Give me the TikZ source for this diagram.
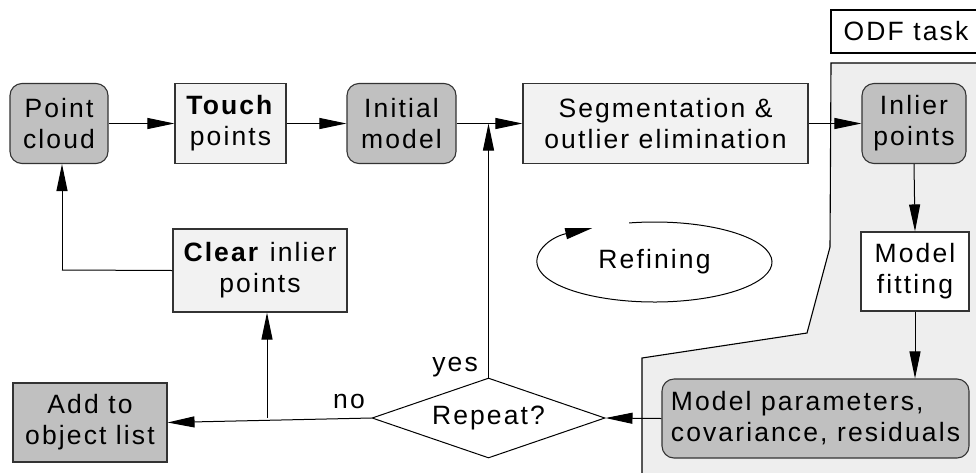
\documentclass[tikz,border=0pt]{standalone}
\usepackage{fontspec}
\setmainfont{Liberation Sans}[LetterSpace=8]
\usetikzlibrary{arrows.meta,shapes.geometric}
\definecolor{boxgray}{HTML}{C0C0C0}
\definecolor{boxlight}{HTML}{F2F2F2}
\definecolor{regiongray}{HTML}{EEEEEE}
\definecolor{edgegray}{HTML}{333333}
\begin{document}
\begin{tikzpicture}[x=1pt,y=-1pt,
  every node/.style={font=\fontsize{26.5}{31}\selectfont},
  box/.style={draw=edgegray, line width=1.1pt, inner sep=0pt, align=center},
  roundbox/.style={box, fill=boxgray, rounded corners=12pt},
  lightbox/.style={box, fill=boxlight},
  graybox/.style={box, fill=boxgray},
  whitebox/.style={box, fill=white},
  decision/.style={draw=black, line width=1pt, fill=white, shape=diamond,
    aspect=2.9, inner sep=0pt},
  arr/.style={draw=black, line width=1pt, -{Triangle[length=27pt,width=11pt]}},
  plain/.style={draw=black, line width=1pt},
  label/.style={inner sep=0pt}
]
\useasboundingbox (0,0) rectangle (976,472);

% ODF task region and its title box
\draw[fill=regiongray, draw=black, line width=1.1pt]
  (831,63) -- (990,63) -- (990,490) -- (642,490) -- (642,358)
  -- (807,333) -- (830,247) -- cycle;
\node[whitebox, draw=black, minimum width=150pt, minimum height=43pt] (odf) at (906,31.5) {ODF task};

% main flow
\node[roundbox, minimum width=98pt, minimum height=80pt] (pc) at (59,123.5) {Point\\cloud};
\node[lightbox, minimum width=111pt, minimum height=80pt] (touch) at (230.5,123.5) {\textbf{Touch}\\points};
\node[roundbox, minimum width=109pt, minimum height=80pt] (init) at (401.5,123.5) {Initial\\model};
\node[lightbox, minimum width=285pt, minimum height=80pt] (seg) at (665.5,123.5) {Segmentation \&\\outlier elimination};
\node[roundbox, minimum width=104pt, minimum height=80pt] (inl) at (914,123.5) {Inlier\\points};
\node[whitebox, minimum width=108pt, minimum height=79pt] (fit) at (915,271.5) {Model\\fitting};
\node[roundbox, minimum width=307pt, minimum height=79pt, align=left] (par) at (815.5,418.5) {Model parameters,\\covariance, residuals};
\node[decision, minimum width=233pt, minimum height=80pt] (rep) at (488.5,418) {Repeat?};
\node[graybox, minimum width=154pt, minimum height=79pt] (add) at (90,422.5) {Add to\\object list};
\node[lightbox, minimum width=174pt, minimum height=83pt] (clr) at (260,270.5) {\textbf{Clear} inlier\\points};

% refinement loop symbol
\node[label] (refl) at (654.5,262) {Refining};
\draw[plain, -{Triangle[length=27pt,width=11pt]}]
  (654.5,262) ++(257.5:117.5 and 40)
  arc[start angle=257.5, end angle=598, x radius=117.5, y radius=40];

% connectors
\draw[arr] (pc.east) -- (touch.west);
\draw[arr] (touch.east) -- (init.west);
\draw[arr] (init.east) -- (seg.west);
\draw[arr] (seg.east) -- (inl.west);
\draw[arr] (inl.south) -- (fit.north);
\draw[arr] (fit.south) -- (fit.south |- par.north);
\draw[arr] (par.west) -- (rep.east);
\draw[arr] (rep.north) -- (rep.north |- init.east);
\draw[arr] (rep.west) -- (add.east);
\coordinate (j) at (267,418);
\draw[arr] (j) -- (j |- clr.south);
\coordinate (k) at (62,270);
\draw[plain] (clr.west) -- (k);
\draw[arr] (k) -- (k |- pc.south);

% branch labels
\node[label, anchor=base east] (yes) at (478,371) {yes};
\node[label, anchor=base west] (no) at (333,408) {no};
\end{tikzpicture}
\end{document}
